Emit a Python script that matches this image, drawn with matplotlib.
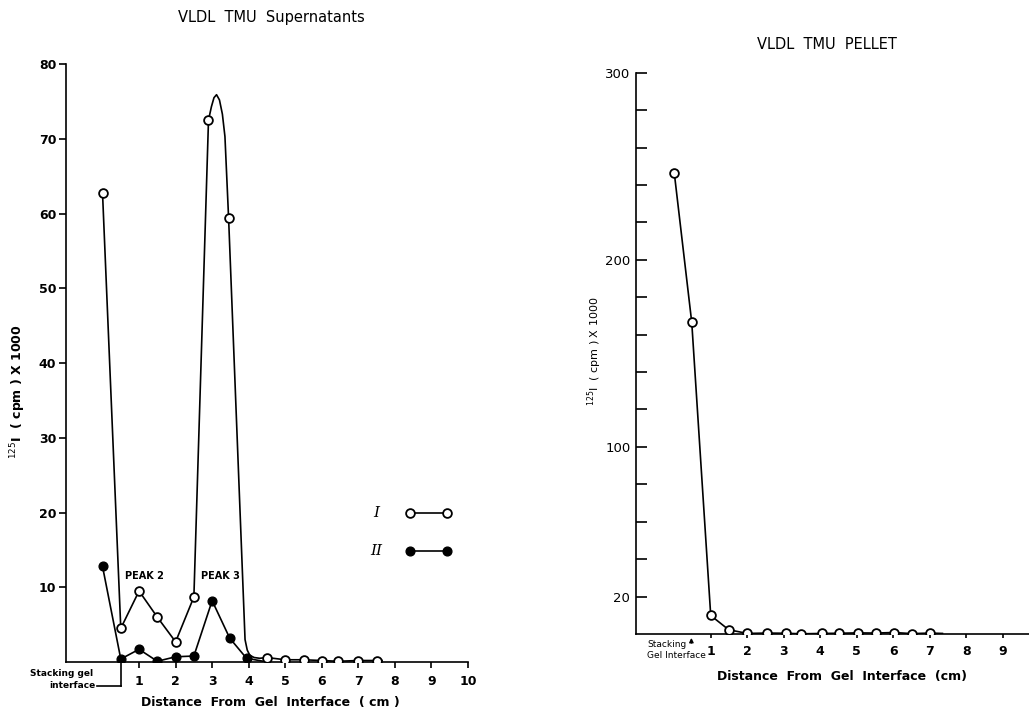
import matplotlib
matplotlib.use("Agg")
import matplotlib.pyplot as plt

plt.rcParams["font.family"] = ["DejaVu Sans"]

# --- data ---
# left panel: VLDL TMU supernatants, counts x 1000
sup_x = [0, 0.5, 1, 1.5, 2, 2.5, 2.9, 3.45, 4.5, 5, 5.5, 6, 6.45, 7, 7.5]
sup_I = [62.8, 4.5, 9.5, 6.0, 2.7, 8.7, 72.5, 59.4, 0.6, 0.3, 0.3, 0.2, 0.1, 0.2, 0.2]
# hand drawn line through series I (incl. the peak crest and the knee at 4 cm)
sup_I_line_x = [0, 0.5, 1, 1.5, 2, 2.5, 2.9, 2.98, 3.05, 3.12, 3.2, 3.28, 3.35,
                3.45, 3.9, 3.96, 4.03, 4.15, 4.3, 4.5, 5, 5.5, 6, 6.45, 7, 7.5, 7.65]
sup_I_line_y = [62.8, 4.5, 9.5, 6.0, 2.7, 8.7, 72.5, 74.3, 75.5, 75.9, 75.2, 73.3, 70.3,
                59.4, 3.0, 1.6, 0.9, 0.6, 0.5, 0.6, 0.3, 0.3, 0.2, 0.1, 0.2, 0.2, 0.2]

sup_II_x = [0, 0.5, 1, 1.5, 2, 2.5, 3, 3.48, 3.94]
sup_II = [12.8, 0.4, 1.7, 0.1, 0.7, 0.8, 8.2, 3.2, 0.5]
sup_II_line_x = sup_II_x + [4.4]
sup_II_line_y = sup_II + [0.1]

# right panel: VLDL TMU pellet
pel_x = [0, 0.48, 1.0, 1.49, 2.0, 2.54, 3.05, 3.48, 4.05, 4.51, 5.04, 5.52, 6.02, 6.52, 7.0]
pel_y = [246.6, 166.5, 9.9, 2.3, 0.3, 0.5, 0.4, 0.1, 0.3, 0.4, 0.6, 0.5, 0.8, 0.2, 0.5]
pel_line_x = pel_x + [7.35]
pel_line_y = pel_y + [0.3]

left_xticks = [1, 2, 3, 4, 5, 6, 7, 8, 9, 10]
left_yticks = [10, 20, 30, 40, 50, 60, 70, 80]
right_xticks = [1, 2, 3, 4, 5, 6, 7, 8, 9]
right_yticks = list(range(20, 301, 20))
right_ylabels = {20: "20", 100: "100", 200: "200", 300: "300"}

LW = 1.2
MS = 6.3

fig = plt.figure(figsize=(10.29, 7.11), dpi=100)

# ---------------- left panel ----------------
ax1 = fig.add_axes([0.0641, 0.0689, 0.3907, 0.841])
ax1.set_xlim(-1, 10)
ax1.set_ylim(0, 80)
for s in ("top", "right"):
    ax1.spines[s].set_visible(False)
for s in ("left", "bottom"):
    ax1.spines[s].set_linewidth(LW)

ax1.plot(sup_I_line_x, sup_I_line_y, color="black", lw=LW, zorder=2)
ax1.plot(sup_II_line_x, sup_II_line_y, color="black", lw=LW, zorder=2)
ax1.plot(sup_II_x, sup_II, "o", color="black", ms=MS, zorder=3)
ax1.plot(sup_x, sup_I, "o", mfc="white", mec="black", mew=1.3, ms=MS, zorder=4)

ax1.set_xticks(left_xticks)
ax1.set_xticklabels([str(t) for t in left_xticks], fontsize=9, fontweight="bold")
ax1.set_yticks(left_yticks)
ax1.set_yticklabels([str(t) for t in left_yticks], fontsize=9, fontweight="bold")
ax1.tick_params(axis="x", direction="out", length=4, width=LW, pad=5)
ax1.tick_params(axis="y", direction="out", length=5, width=LW, pad=2)

# stacking gel interface bracket
tr = ax1.get_xaxis_transform()
ax1.plot([0.5, 0.5], [0, -0.040], color="black", lw=LW, transform=tr, clip_on=False)
ax1.plot([-0.15, 0.5], [-0.040, -0.040], color="black", lw=LW, transform=tr, clip_on=False)
ax1.text(-0.25, -0.020, "Stacking gel", transform=tr, fontsize=6.5, fontweight="bold",
         ha="right", va="center")
ax1.text(-0.18, -0.040, "interface", transform=tr, fontsize=6.5, fontweight="bold",
         ha="right", va="center")

ax1.text(1.16, 11.5, "PEAK 2", fontsize=7, fontweight="bold", ha="center", va="center")
ax1.text(3.24, 11.5, "PEAK 3", fontsize=7, fontweight="bold", ha="center", va="center")

# legend
ax1.text(7.5, 20, "I", fontsize=11, family="serif", style="italic", ha="center", va="center")
ax1.plot([8.42, 9.42], [20, 20], "-o", color="black", lw=LW, mfc="white", mew=1.3, ms=MS)
ax1.text(7.5, 14.8, "II", fontsize=11, family="serif", style="italic", ha="center", va="center")
ax1.plot([8.42, 9.42], [14.8, 14.8], "-o", color="black", lw=LW, ms=MS)

fig.text(0.264, 0.976, "VLDL  TMU  Supernatants", fontsize=10.5, ha="center", va="center")
fig.text(0.0175, 0.449, r"$^{125}$I  ( cpm ) X 1000", fontsize=9, fontweight="bold",
         rotation=90, ha="center", va="center")
fig.text(0.2624, 0.0113, "Distance  From  Gel  Interface  ( cm )", fontsize=9,
         fontweight="bold", ha="center", va="center")

# ---------------- right panel ----------------
ax2 = fig.add_axes([0.618, 0.1083, 0.383, 0.7894])
ax2.set_xlim(-1.05, 9.75)
ax2.set_ylim(0, 300)
for s in ("top", "right"):
    ax2.spines[s].set_visible(False)
for s in ("left", "bottom"):
    ax2.spines[s].set_linewidth(LW)

ax2.plot(pel_line_x, pel_line_y, color="black", lw=LW, zorder=2)
ax2.plot(pel_x, pel_y, "o", mfc="white", mec="black", mew=1.3, ms=MS, zorder=4)

ax2.set_xticks(right_xticks)
ax2.set_xticklabels([str(t) for t in right_xticks], fontsize=9, fontweight="bold")
ax2.set_yticks(right_yticks)
ax2.set_yticklabels([right_ylabels.get(t, "") for t in right_yticks], fontsize=9.5)
ax2.tick_params(axis="x", direction="out", length=3, width=LW, pad=5)
ax2.tick_params(axis="y", direction="in", length=8, width=LW, pad=4)

tr2 = ax2.get_xaxis_transform()
ax2.annotate("", xy=(0.47, -0.002), xytext=(0.47, -0.021), xycoords=tr2, textcoords=tr2,
             arrowprops=dict(arrowstyle="-|>", color="black", lw=1.0, mutation_scale=6))
ax2.text(-0.73, -0.018, "Stacking", transform=tr2, fontsize=6.5, ha="left", va="center")
ax2.text(-0.76, -0.039, "Gel Interface", transform=tr2, fontsize=6.5, ha="left", va="center")

fig.text(0.8034, 0.938, "VLDL  TMU  PELLET", fontsize=10.5, ha="center", va="center")
fig.text(0.578, 0.506, r"$^{125}$I  ( cpm ) X 1000", fontsize=8,
         rotation=90, ha="center", va="center")
fig.text(0.818, 0.0482, "Distance  From  Gel  Interface  (cm)", fontsize=9,
         fontweight="bold", ha="center", va="center")

fig.savefig("out.png", dpi=100)
plt.close(fig)
